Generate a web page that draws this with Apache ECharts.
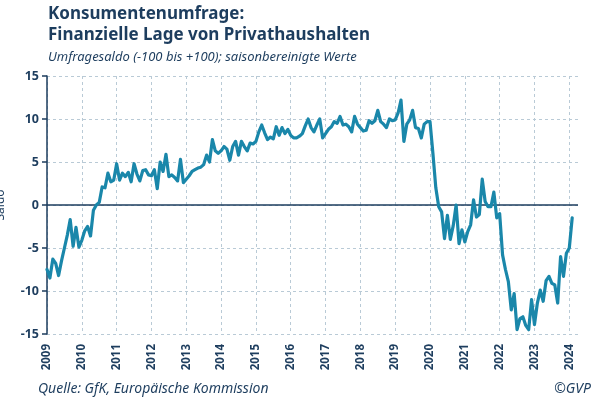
<!DOCTYPE html>
<html>
<head>
<meta charset="utf-8">
<script src="https://cdn.jsdelivr.net/npm/echarts@6/dist/echarts.min.js"></script>
<style>
html,body{margin:0;padding:0;background:#fff;}
#chart{width:604px;height:414px;}
</style>
</head>
<body>
<div id="chart"></div>
<script>
// Tick labels (years) and y ticks
const YEAR_LABELS = ['2009','2010','2011','2012','2013','2014','2015','2016','2017','2018','2019','2020','2021','2022','2023','2024'];
const Y_MIN = -15, Y_MAX = 15, Y_STEP = 5;

// Monthly survey balance values (Jan..Dec) per year
const v2009 = [-7.5, -8.5, -6.3, -6.8, -8.2, -6.5, -5.0, -3.5, -1.7, -4.8, -2.6, -4.9];
const v2010 = [-4.1, -3.0, -2.5, -3.6, -0.6, 0.0, 0.3, 2.1, 2.0, 3.7, 2.7, 2.9];
const v2011 = [4.8, 2.9, 3.7, 3.3, 3.8, 2.7, 4.8, 3.6, 2.8, 4.0, 4.1, 3.5];
const v2012 = [3.4, 4.1, 1.9, 5.0, 3.9, 5.9, 3.3, 3.5, 3.2, 2.8, 5.3, 2.6];
const v2013 = [3.0, 3.4, 3.9, 4.1, 4.3, 4.4, 4.7, 5.8, 5.0, 7.6, 6.3, 6.0];
const v2014 = [6.3, 6.8, 6.5, 5.2, 6.8, 7.4, 5.8, 7.4, 6.8, 6.3, 7.2, 7.1];
const v2015 = [7.4, 8.5, 9.3, 8.4, 7.6, 7.9, 7.7, 9.1, 8.1, 9.0, 8.3, 8.8];
const v2016 = [8.1, 7.8, 7.8, 8.0, 8.3, 9.2, 10.0, 9.0, 8.5, 9.3, 10.0, 7.8];
const v2017 = [8.3, 8.8, 9.1, 9.7, 9.5, 10.3, 9.3, 9.4, 9.1, 8.5, 10.3, 9.4];
const v2018 = [9.0, 8.6, 8.7, 9.8, 9.5, 9.8, 11.0, 9.7, 9.4, 9.0, 10.0, 9.8];
const v2019 = [9.9, 10.7, 12.2, 7.4, 9.4, 9.9, 11.0, 9.0, 8.9, 7.8, 9.4, 9.7];
const v2020 = [9.7, 6.0, 2.0, -0.2, -0.8, -3.9, -1.2, -4.0, -2.4, 0.0, -4.5, -2.9];
const v2021 = [-4.3, -3.1, -2.3, 0.6, -1.4, -1.1, 3.0, 0.4, -0.2, -0.2, 1.5, -1.5];
const v2022 = [-1.0, -5.8, -7.5, -8.9, -12.2, -10.3, -14.5, -13.2, -13.0, -14.0, -14.5, -11.0];
const v2023 = [-13.9, -11.4, -9.9, -11.2, -8.8, -8.3, -9.1, -9.3, -11.4, -6.0, -8.3, -5.6];
const v2024 = [-5.0, -1.5];

const values = [].concat(v2009, v2010, v2011, v2012, v2013, v2014, v2015, v2016,
  v2017, v2018, v2019, v2020, v2021, v2022, v2023, v2024);

// Month categories from Jan 2009 through Apr 2024 (axis extends a bit past data)
const months = [];
YEAR_LABELS.forEach(function (y) {
  for (let m = 1; m <= 12; m++) {
    if (y === '2024' && m > 4) break;
    months.push(y + '-' + (m < 10 ? '0' + m : m));
  }
});

const NAVY = '#1d3d5e';
const LINE = '#1a87aa';
const GRID = '#b9cad6';
const FONT = 'Noto Sans';

const chart = echarts.init(document.getElementById('chart'), null, {renderer: 'canvas'});
chart.setOption({
  animation: false,
  backgroundColor: '#ffffff',
  textStyle: {fontFamily: FONT},
  title: [
    {
      text: 'Konsumentenumfrage:\nFinanzielle Lage von Privathaushalten',
      left: 48, top: 4, padding: 0,
      textStyle: {fontFamily: FONT, fontSize: 17, fontWeight: 'bold', color: NAVY, lineHeight: 21}
    },
    {
      text: 'Umfragesaldo (-100 bis +100); saisonbereinigte Werte',
      left: 48, top: 49, padding: 0,
      textStyle: {fontFamily: FONT, fontSize: 13, fontStyle: 'italic', fontWeight: 'normal', color: NAVY, lineHeight: 16}
    },
    {
      text: 'Quelle: GfK, Europäische Kommission',
      left: 38, top: 381, padding: 0,
      textStyle: {fontFamily: FONT, fontSize: 14, fontStyle: 'italic', fontWeight: 'normal', color: NAVY, lineHeight: 17}
    },
    {
      text: '©GVP',
      right: 13, top: 381, padding: 0,
      textStyle: {fontFamily: FONT, fontSize: 14, fontStyle: 'italic', fontWeight: 'normal', color: NAVY, lineHeight: 17}
    }
  ],
  grid: {left: 47, right: 26, top: 76, bottom: 80, containLabel: false, outerBoundsMode: 'none'},
  xAxis: {
    type: 'category',
    data: months,
    boundaryGap: false,
    axisLine: {show: false},
    axisTick: {show: false},
    axisLabel: {
      rotate: 90,
      margin: 10,
      fontFamily: FONT,
      fontSize: 11.5,
      fontWeight: 'bold',
      color: NAVY,
      interval: function (i, v) { return v.slice(5) === '01'; },
      formatter: function (v) { return v.slice(0, 4); }
    },
    splitLine: {
      show: true,
      interval: function (i, v) { return v.slice(5) === '01'; },
      lineStyle: {color: GRID, type: [3, 3], width: 1}
    }
  },
  yAxis: {
    type: 'value',
    min: Y_MIN, max: Y_MAX, interval: Y_STEP,
    name: 'Saldo',
    nameLocation: 'middle',
    nameRotate: 90,
    nameGap: 40,
    nameTextStyle: {fontFamily: FONT, fontSize: 12, color: NAVY},
    axisLine: {show: true, lineStyle: {color: NAVY, width: 1.5}},
    axisTick: {show: true, length: 5, lineStyle: {color: NAVY, width: 1.5}},
    axisLabel: {fontFamily: FONT, fontSize: 12.5, fontWeight: 'bold', color: NAVY, margin: 8},
    splitLine: {show: true, lineStyle: {color: GRID, type: [3, 3], width: 1}}
  },
  series: [{
    type: 'line',
    data: values,
    showSymbol: false,
    smooth: false,
    lineStyle: {color: LINE, width: 3.2, join: 'round', cap: 'round'},
    itemStyle: {color: LINE},
    z: 3,
    markLine: {
      silent: true,
      symbol: 'none',
      label: {show: false},
      lineStyle: {color: NAVY, width: 1.5, type: 'solid'},
      data: [{yAxis: 0}],
      z: 2
    }
  }]
});
</script>
</body>
</html>
